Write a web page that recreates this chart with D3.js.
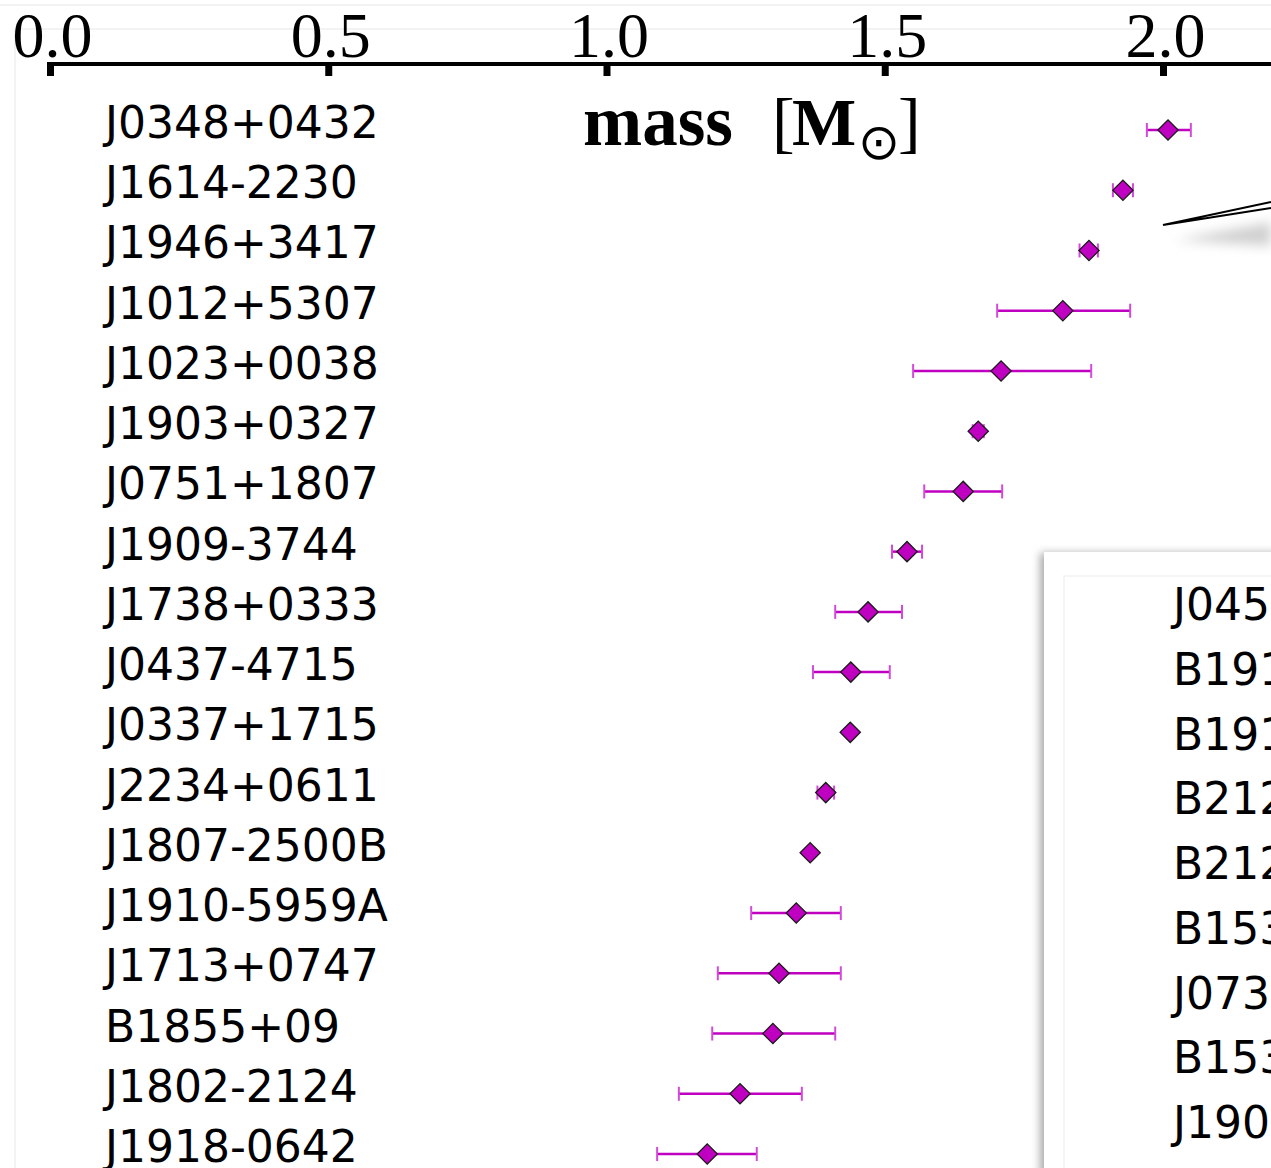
<!DOCTYPE html>
<html>
<head>
<meta charset="utf-8">
<script src="https://cdn.jsdelivr.net/npm/d3@7"></script>
<style>
  html, body { margin: 0; padding: 0; background: #fff; }
  svg { display: block; }
</style>
</head>
<body>
<div id="chart"></div>
<script>
// pulsar names, top to bottom
const pulsars = ["J0348+0432", "J1614-2230", "J1946+3417", "J1012+5307", "J1023+0038",
    "J1903+0327", "J0751+1807", "J1909-3744", "J1738+0333", "J0437-4715", "J0337+1715",
    "J2234+0611", "J1807-2500B", "J1910-5959A", "J1713+0747", "B1855+09", "J1802-2124",
    "J1918-0642"];
// mass [Msun] with lower / upper error limits
const massVal = [2.009, 1.928, 1.867, 1.820, 1.709, 1.668, 1.641, 1.540, 1.470, 1.439,
    1.438, 1.394, 1.366, 1.341, 1.310, 1.299, 1.240, 1.181];
const massLo = [1.971, 1.910, 1.850, 1.702, 1.551, 1.658, 1.571, 1.513, 1.411, 1.371,
    1.433, 1.379, 1.361, 1.260, 1.200, 1.190, 1.130, 1.091];
const massHi = [2.050, 1.946, 1.883, 1.941, 1.871, 1.678, 1.711, 1.567, 1.531, 1.509,
    1.443, 1.409, 1.371, 1.421, 1.421, 1.411, 1.351, 1.270];
// names in the inset panel (cut off at the right edge)
const insetNames = ["J0453+1559", "B1913+16", "B1913+16", "B2127+11C", "B2127+11C",
    "B1534+12", "J0737-3039A", "B1534+12", "J1906+0746"];
const tickVals = [0.0, 0.5, 1.0, 1.5, 2.0];

const W = 1271, H = 1168;
const magenta = "#c000c0";

const svg = d3.select("#chart").append("svg")
    .attr("width", W)
    .attr("height", H);

const defs = svg.append("defs");
defs.append("filter").attr("id", "blur").attr("x", "-50%").attr("y", "-50%")
    .attr("width", "200%").attr("height", "200%")
    .append("feGaussianBlur").attr("stdDeviation", 4);
defs.append("filter").attr("id", "blur2").attr("x", "-50%").attr("y", "-100%")
    .attr("width", "200%").attr("height", "300%")
    .append("feGaussianBlur").attr("stdDeviation", 6);

svg.append("rect").attr("width", W).attr("height", H).attr("fill", "#fff");

// faint outer frame of the figure
svg.append("line").attr("x1", 0).attr("x2", W).attr("y1", 5).attr("y2", 5)
    .attr("stroke", "#f3f3f3").attr("stroke-width", 2);
svg.append("line").attr("x1", 15).attr("x2", W).attr("y1", 29).attr("y2", 29)
    .attr("stroke", "#f3f3f3").attr("stroke-width", 2);
svg.append("line").attr("x1", 15).attr("x2", 15).attr("y1", 29).attr("y2", H)
    .attr("stroke", "#f3f3f3").attr("stroke-width", 2);

// scales
var x = d3.scaleLinear()
    .domain([0, 2.2])
    .range([50, 50 + 556.5 * 2.2]);

var y = d3.scalePoint()
    .domain(pulsars)
    .range([130, 1154]);

// top axis, ticks pointing down
const axis = svg.append("g")
    .attr("transform", "translate(0,64)")
    .call(d3.axisTop(x).tickValues(tickVals).tickFormat(d3.format(".1f"))
        .tickSizeInner(-12).tickSizeOuter(0).tickPadding(7));
axis.select(".domain").attr("stroke", "#000").attr("stroke-width", 4)
    .attr("d", "M" + (x(0) - 3) + ",0H" + W);
axis.selectAll(".tick line").attr("stroke", "#000").attr("stroke-width", 7);
axis.selectAll(".tick text")
    .attr("font-family", "'Liberation Serif', serif")
    .attr("font-size", 64)
    .attr("fill", "#000")
    .attr("dx", 2);

// axis title
const title = svg.append("text")
    .attr("y", 145)
    .attr("font-family", "'Liberation Serif', serif")
    .attr("font-size", 62)
    .attr("fill", "#000");
title.append("tspan").attr("x", 583).attr("font-size", 71).attr("font-weight", "bold").text("mass");
title.append("tspan").attr("x", 772).attr("font-size", 68).text("[");
title.append("tspan").attr("x", 792).attr("font-size", 68).attr("font-weight", "bold").text("M");
title.append("tspan").attr("x", 858).attr("dy", 14).attr("font-size", 50)
    .attr("font-family", "'DejaVu Sans', sans-serif").text("⊙");
title.append("tspan").attr("x", 898).attr("dy", -14).attr("font-size", 68).text("]");

// pulsar names
svg.append("g").selectAll("text")
    .data(pulsars)
    .join("text")
    .attr("x", 105)
    .attr("y", d => y(d) + 8)
    .attr("font-family", "'DejaVu Sans', sans-serif")
    .attr("font-size", 44)
    .attr("fill", "#000")
    .text(d => d);

// error bars
const rows = pulsars.map((p, i) => ({ name: p, m: massVal[i], lo: massLo[i], hi: massHi[i] }));
const err = svg.append("g");
err.selectAll("line.bar")
    .data(rows)
    .join("line")
    .attr("class", "bar")
    .attr("x1", d => x(d.lo))
    .attr("x2", d => x(d.hi))
    .attr("y1", d => y(d.name))
    .attr("y2", d => y(d.name))
    .attr("stroke", magenta)
    .attr("stroke-width", 2.5);
["lo", "hi"].forEach(k => {
    err.selectAll("line.cap" + k)
        .data(rows)
        .join("line")
        .attr("class", "cap" + k)
        .attr("x1", d => x(d[k]))
        .attr("x2", d => x(d[k]))
        .attr("y1", d => y(d.name) - 7)
        .attr("y2", d => y(d.name) + 7)
        .attr("stroke", "#d24ad8")
        .attr("stroke-width", 2);
});

// diamond markers
svg.append("g").selectAll("path")
    .data(rows)
    .join("path")
    .attr("d", d3.symbol(d3.symbolSquare, 205))
    .attr("transform", d => "translate(" + x(d.m) + "," + y(d.name) + ") rotate(45)")
    .attr("fill", magenta)
    .attr("stroke", "#1a1a1a")
    .attr("stroke-width", 1.3);

// callout lines towards the (cropped) zoom panel
svg.append("path")
    .attr("d", "M1175,240L1271,222L1271,246Z")
    .attr("fill", "#d0d0d0")
    .attr("filter", "url(#blur2)");
svg.append("path")
    .attr("d", "M1163,225L1271,202M1163,225L1271,208")
    .attr("fill", "none")
    .attr("stroke", "#000")
    .attr("stroke-width", 2.2);

// inset panel with shadow
svg.append("rect")
    .attr("x", 1040).attr("y", 553).attr("width", 300).attr("height", 700)
    .attr("fill", "#aaa")
    .attr("filter", "url(#blur)");
svg.append("rect")
    .attr("x", 1044).attr("y", 552).attr("width", 300).attr("height", 700)
    .attr("fill", "#fff");
svg.append("rect")
    .attr("x", 1064).attr("y", 576).attr("width", 300).attr("height", 700)
    .attr("fill", "none")
    .attr("stroke", "#f2f2f2")
    .attr("stroke-width", 1.5);

var yi = d3.scalePoint()
    .domain(d3.range(insetNames.length))
    .range([620, 1138]);
svg.append("g").selectAll("text")
    .data(insetNames)
    .join("text")
    .attr("x", 1173)
    .attr("y", (d, i) => yi(i))
    .attr("font-family", "'DejaVu Sans', sans-serif")
    .attr("font-size", 44)
    .attr("fill", "#000")
    .text(d => d);
</script>
</body>
</html>
